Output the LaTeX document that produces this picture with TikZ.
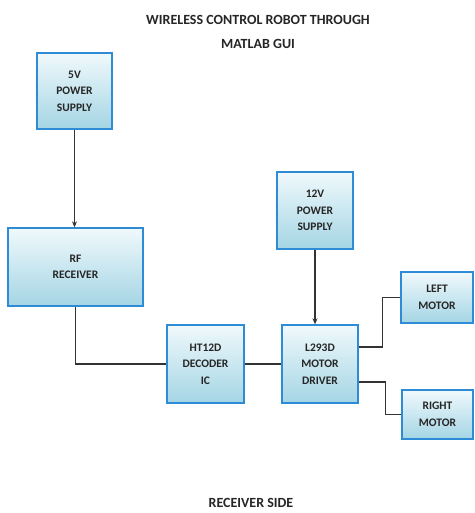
\documentclass[tikz,border=0pt]{standalone}
\usepackage{fontspec}
\setmainfont{Carlito}
\usetikzlibrary{arrows.meta}
\definecolor{bordblue}{RGB}{46,139,214}
\definecolor{filltop}{RGB}{240,249,252}
\definecolor{fillbot}{RGB}{164,213,228}
\begin{document}
\begin{tikzpicture}[x=1pt,y=-1pt,
  blk/.style={draw=bordblue, line width=1.4pt, top color=filltop, bottom color=fillbot,
    align=center, inner sep=0pt, font=\fontsize{11.5}{16.5}\selectfont\bfseries, text=black!85},
  wire/.style={draw=black!80, line width=1.1pt},
  arr/.style={wire, -{Stealth[length=6pt,width=5pt]}},
  ttl/.style={font=\fontsize{14}{24}\selectfont\bfseries, align=center, text=black!85}]
\useasboundingbox[fill=white] (0,0) rectangle (474,513);
\node[ttl] (title) at (258,32) {WIRELESS CONTROL ROBOT THROUGH\\MATLAB GUI};
\node[ttl] (foot) at (251,503) {RECEIVER SIDE};
\node[blk, minimum width=75pt, minimum height=76pt] (five) at (74.5,91) {5V\\POWER\\SUPPLY};
\node[blk, minimum width=135pt, minimum height=78pt] (rf) at (75.5,267) {RF\\RECEIVER};
\node[blk, minimum width=77pt, minimum height=78pt] (ht) at (205.5,364) {HT12D\\DECODER\\IC};
\node[blk, minimum width=76pt, minimum height=77pt] (twelve) at (315,210.5) {12V\\POWER\\SUPPLY};
\node[blk, minimum width=76pt, minimum height=78pt] (drv) at (320,364) {L293D\\MOTOR\\DRIVER};
\node[blk, minimum width=72pt, minimum height=51pt] (left) at (437,297.5) {LEFT\\MOTOR};
\node[blk, minimum width=71pt, minimum height=49pt] (right) at (437.5,414.5) {RIGHT\\MOTOR};
\draw[arr] (five.south) -- (five.south |- rf.north);
\draw[wire] (rf.south) |- (ht.west);
\draw[wire] (ht.east) -- (drv.west);
\draw[arr] (twelve.south) -- (twelve.south |- drv.north);
\draw[wire] ([yshift=17pt]drv.east) -- ++(24,0) |- (left.west);
\draw[wire] ([yshift=-18pt]drv.east) -- ++(27,0) |- (right.west);
\end{tikzpicture}
\end{document}
